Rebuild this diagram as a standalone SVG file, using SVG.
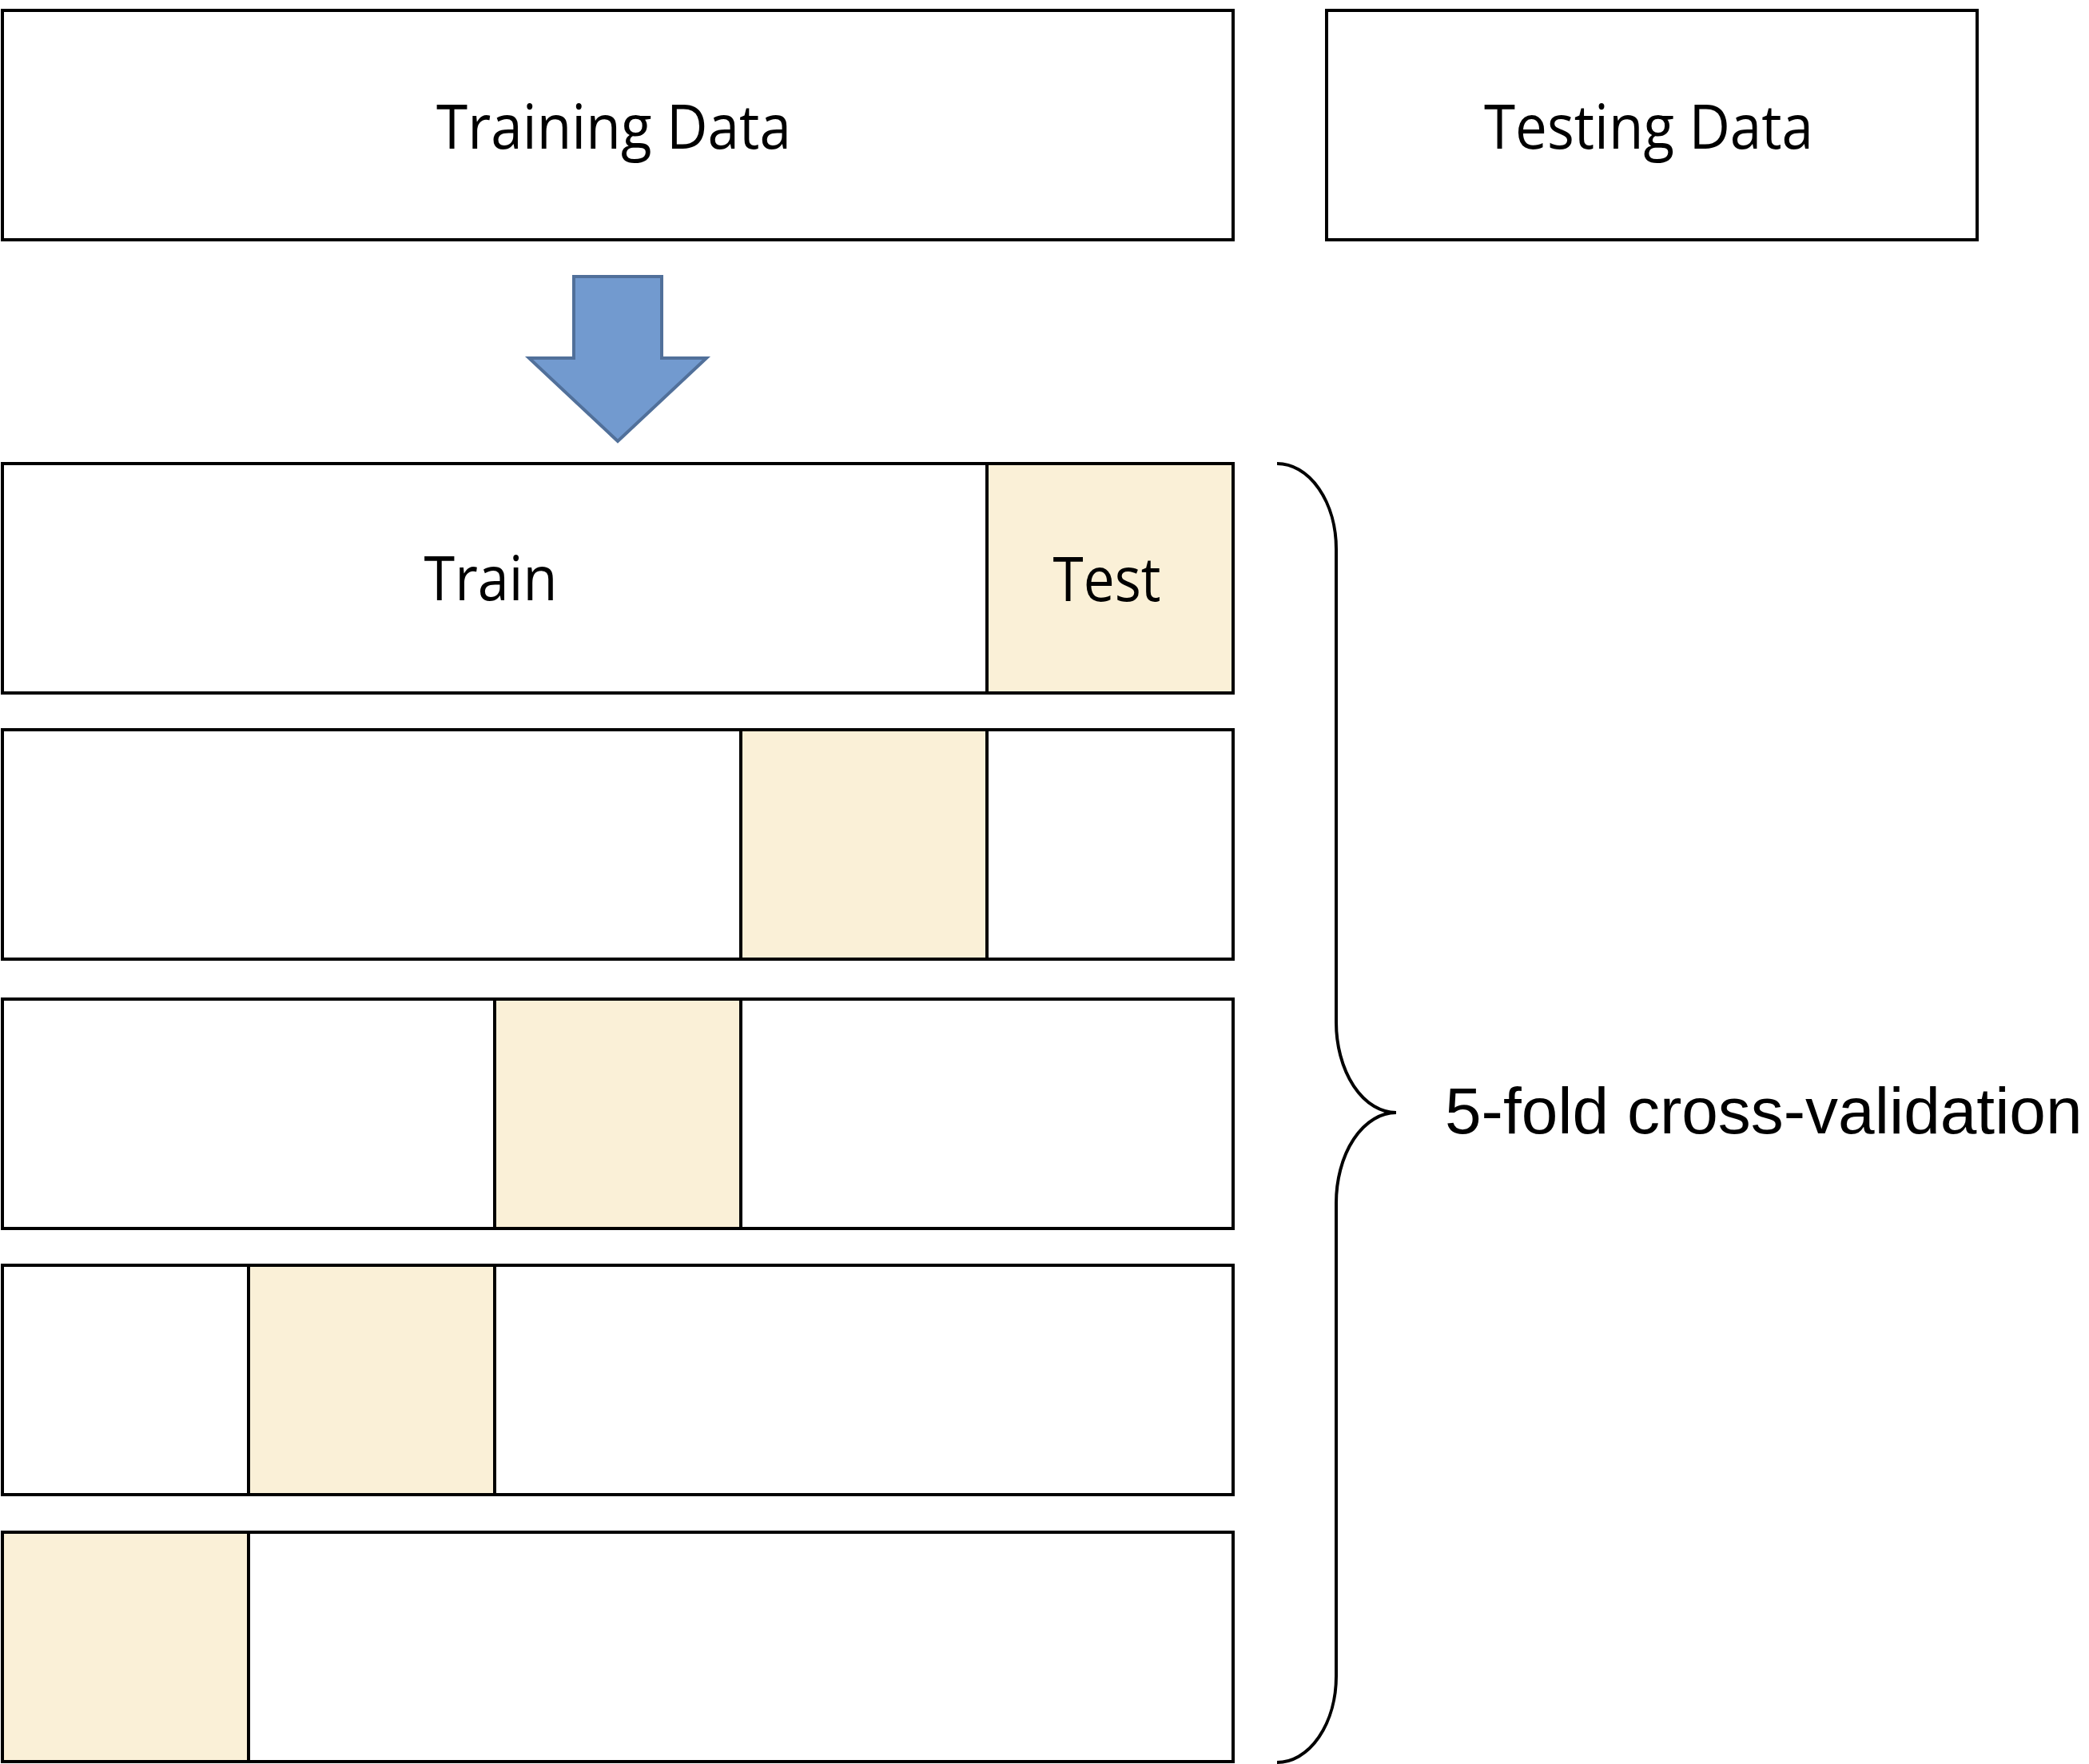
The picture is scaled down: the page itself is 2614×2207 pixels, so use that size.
<svg xmlns="http://www.w3.org/2000/svg" width="2614" height="2207" viewBox="0 0 2614 2207">
<style>
.box{fill:#ffffff;stroke:#000000;stroke-width:4}
.test{fill:#FAF0D7;stroke:#000000;stroke-width:4}
.lbl{font-family:"Open Sans","Liberation Sans",sans-serif;font-size:76px;fill:#000000;text-anchor:middle}
.big{font-family:"Liberation Sans",Arial,sans-serif;font-size:82px;fill:#000000}
.brace{fill:none;stroke:#000000;stroke-width:4}
</style>
<rect x="0" y="0" width="2614" height="2207" fill="#ffffff"/>
<g id="training-data">
<rect class="box" x="3" y="13" width="1540" height="287"/>
<text class="lbl" x="768" y="186" textLength="444" lengthAdjust="spacingAndGlyphs">Training Data</text>
</g>
<g id="testing-data">
<rect class="box" x="1660" y="13" width="814" height="287"/>
<text class="lbl" x="2063" y="186" textLength="412" lengthAdjust="spacingAndGlyphs">Testing Data</text>
</g>
<g id="connectors">
<polygon points="718,346 828,346 828,448 884,448 773,552 662,448 718,448" fill="#729ACF" stroke="#51709A" stroke-width="4"/>
</g>
<g id="fold1">
<rect class="box" x="3" y="580" width="1232" height="287"/>
<rect class="test" x="1235" y="580" width="308" height="287"/>
<text class="lbl" x="614" y="751" textLength="167" lengthAdjust="spacingAndGlyphs">Train</text>
<text class="lbl" x="1385" y="752" textLength="135" lengthAdjust="spacingAndGlyphs">Test</text>
</g>
<g id="fold2">
<rect class="box" x="3" y="913" width="924" height="287"/>
<rect class="test" x="927" y="913" width="308" height="287"/>
<rect class="box" x="1235" y="913" width="308" height="287"/>
</g>
<g id="fold3">
<rect class="box" x="3" y="1250" width="616" height="287"/>
<rect class="test" x="619" y="1250" width="308" height="287"/>
<rect class="box" x="927" y="1250" width="616" height="287"/>
</g>
<g id="fold4">
<rect class="box" x="3" y="1583" width="308" height="287"/>
<rect class="test" x="311" y="1583" width="308" height="287"/>
<rect class="box" x="619" y="1583" width="924" height="287"/>
</g>
<g id="fold5">
<rect class="test" x="3" y="1917" width="308" height="287"/>
<rect class="box" x="311" y="1917" width="1232" height="287"/>
</g>
<g id="brace">
<path class="brace" d="M1598,580 A74,107 0 0 1 1672,687 L1672,1279 A75,113 0 0 0 1747,1392 A75,113 0 0 0 1672,1505 L1672,2097 A74,108 0 0 1 1598,2205"/>
<text class="big" x="1808" y="1418">5-fold cross-validation</text>
</g>
</svg>
